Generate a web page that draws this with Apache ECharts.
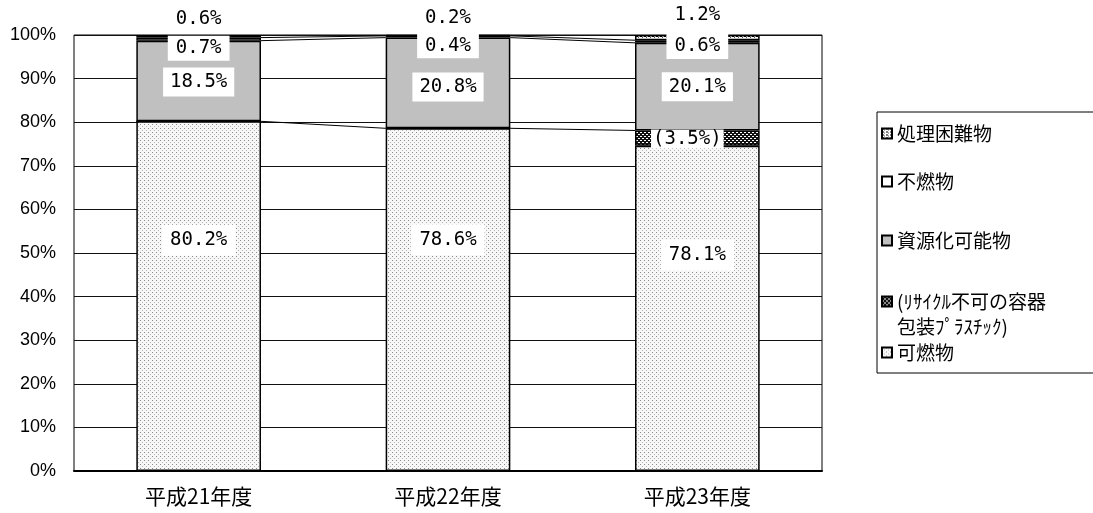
<!DOCTYPE html>
<html>
<head>
<meta charset="utf-8">
<script src="https://cdn.jsdelivr.net/npm/echarts@6/dist/echarts.min.js"></script>
<style>
  html, body { margin: 0; padding: 0; background: #fff; }
  #chart { width: 1093px; height: 513px; }
</style>
</head>
<body>
<div id="chart"></div>
<script>
// Fiscal years
const categories = ['平成21年度', '平成22年度', '平成23年度'];
// Share of each waste type (%)
const combustibleTotal = [80.2, 78.6, 78.1];   // 可燃物 (includes the plastic share below)
const plasticShare = [0, 0, 3.5];              // (ﾘｻｲｸﾙ不可の容器包装ﾌﾟﾗｽﾁｯｸ)
const recyclable = [18.5, 20.8, 20.1];         // 資源化可能物
const nonCombustible = [0.7, 0.4, 0.6];        // 不燃物
const hardToTreat = [0.6, 0.2, 1.2];           // 処理困難物
const yTicks = [0, 10, 20, 30, 40, 50, 60, 70, 80, 90, 100];

const names = {
  combustible: '可燃物',
  plastic: '(ﾘｻｲｸﾙ不可の容器\n包装ﾌﾟﾗｽﾁｯｸ)',
  recyclable: '資源化可能物',
  nonCombustible: '不燃物',
  hardToTreat: '処理困難物'
};

// --- fill patterns -------------------------------------------------------
function makePattern(w, h, bg, dots) {
  const c = document.createElement('canvas');
  c.width = w; c.height = h;
  const ctx = c.getContext('2d');
  ctx.fillStyle = bg;
  ctx.fillRect(0, 0, w, h);
  dots.forEach(d => { ctx.fillStyle = d[2]; ctx.fillRect(d[0], d[1], d[3] || 1, d[4] || 1); });
  return { image: c, repeat: 'repeat' };
}
const dottedFill = makePattern(4, 4, '#f7f7f7', [[0, 0, '#8a8a8a'], [2, 2, '#b4b4b4']]);
const checkFill = makePattern(4, 4, '#111', [[0, 0, '#fff', 2, 1], [2, 2, '#fff', 2, 1]]);
const speckFill = makePattern(4, 3, '#fff', [[0, 0, '#000', 2, 1], [2, 1, '#555']]);

// Bottom segment of the last bar is the combustible share without the plastic part
const combustibleDrawn = combustibleTotal.map((v, i) => +(v - plasticShare[i]).toFixed(1));

// Cumulative boundaries joined by series lines between neighbouring bars
function cumulative(arrs) {
  return categories.map((_, i) => arrs.reduce((s, a) => s + a[i], 0));
}
const boundaries = [
  combustibleTotal,
  cumulative([combustibleTotal, recyclable]),
  cumulative([combustibleTotal, recyclable, nonCombustible])
];
const connectorData = [];
boundaries.forEach(b => {
  for (let i = 0; i < categories.length - 1; i++) connectorData.push([i, b[i], b[i + 1]]);
});

const pctFont = { fontFamily: 'DejaVu Sans Mono', fontSize: 19, color: '#000', backgroundColor: '#fff', padding: [4, 6] };

function items(values, offsets, xOffsets) {
  return values.map((v, i) => {
    const o = { value: v };
    if (v === 0) {
      o.label = { show: false };
    } else {
      o.label = { offset: [xOffsets ? xOffsets[i] : 0, offsets[i]] };
    }
    return o;
  });
}

const baseBar = {
  type: 'bar',
  stack: 'total',
  barWidth: '50%',
  emphasis: { disabled: true }
};
const edge = { borderColor: '#000', borderWidth: 1.5 };

const chart = echarts.init(document.getElementById('chart'), null, { renderer: 'canvas' });
chart.setOption({
  animation: false,
  backgroundColor: '#fff',
  grid: { left: 74, right: 271, top: 35, bottom: 42, show: true, borderColor: '#000', borderWidth: 1, backgroundColor: 'transparent' },
  legend: {
    orient: 'vertical',
    left: 877,
    top: 112,
    padding: [9, 320, 7, 4],
    itemGap: 0,
    itemWidth: 10,
    itemHeight: 10,
    icon: 'rect',
    borderColor: '#000',
    borderWidth: 1,
    // the two-line entry gets a blank lead line so its first line sits beside the swatch
    formatter: name => (name === names.plastic ? ' \n' + name : name),
    textStyle: { fontFamily: 'Noto Sans CJK JP', fontSize: 19, color: '#000' },
    data: [
      { name: names.hardToTreat, textStyle: { lineHeight: 25 } },
      { name: names.nonCombustible, textStyle: { lineHeight: 71 } },
      { name: names.recyclable, textStyle: { lineHeight: 47 } },
      { name: names.plastic, textStyle: { lineHeight: 25 } },
      { name: names.combustible, textStyle: { lineHeight: 27 } }
    ]
  },
  xAxis: {
    type: 'category',
    data: categories,
    axisLine: { lineStyle: { color: '#000', width: 2 } },
    axisTick: { inside: true, length: 7, lineStyle: { color: '#000' } },
    axisLabel: { color: '#000', fontFamily: 'Noto Sans CJK JP', fontSize: 21, margin: 15 }
  },
  yAxis: {
    type: 'value',
    min: yTicks[0],
    max: yTicks[yTicks.length - 1],
    interval: yTicks[1] - yTicks[0],
    axisLine: { show: false },
    axisTick: { show: false },
    axisLabel: { color: '#000', fontFamily: 'Liberation Sans', fontSize: 18, margin: 18, formatter: '{value}%' },
    splitLine: { lineStyle: { color: '#111', width: 1 } }
  },
  series: [
    Object.assign({}, baseBar, {
      name: names.combustible,
      itemStyle: Object.assign({ color: dottedFill }, edge),
      data: items(combustibleDrawn, [-56, -60, -53]),
      label: { show: true, position: 'inside', formatter: p => combustibleTotal[p.dataIndex].toFixed(1) + '%', ...pctFont, padding: [6, 8] }
    }),
    Object.assign({}, baseBar, {
      name: names.plastic,
      itemStyle: Object.assign({ color: checkFill }, edge),
      data: items(plasticShare, [0, 0, 1], [0, 0, -10]),
      label: { show: true, position: 'inside', formatter: p => '(' + p.value.toFixed(1) + '%)', ...pctFont, padding: [0, 2] }
    }),
    Object.assign({}, baseBar, {
      name: names.recyclable,
      itemStyle: Object.assign({ color: '#c0c0c0' }, edge),
      data: items(recyclable, [1, 4, 0]),
      label: { show: true, position: 'inside', formatter: p => p.value.toFixed(1) + '%', ...pctFont, padding: [5, 7] }
    }),
    Object.assign({}, baseBar, {
      name: names.nonCombustible,
      itemStyle: Object.assign({ color: '#fff' }, edge),
      data: items(nonCombustible, [9, 9, 5]),
      label: { show: true, position: 'inside', formatter: p => p.value.toFixed(1) + '%', ...pctFont, padding: [3, 8] }
    }),
    Object.assign({}, baseBar, {
      name: names.hardToTreat,
      itemStyle: Object.assign({ color: speckFill }, edge),
      data: items(hardToTreat, [-17, -17, -23]),
      label: { show: true, position: 'inside', formatter: p => p.value.toFixed(1) + '%', ...pctFont, padding: [2, 8] }
    }),
    {
      // series lines linking segment boundaries of adjacent bars
      type: 'custom',
      name: 'series-lines',
      silent: true,
      z: 1,
      encode: { x: 0, y: 1 },
      data: connectorData,
      renderItem: (params, api) => {
        const i = api.value(0);
        const half = api.size([1, 0])[0] * 0.25;
        const a = api.coord([i, api.value(1)]);
        const b = api.coord([i + 1, api.value(2)]);
        return {
          type: 'line',
          shape: { x1: a[0] + half, y1: a[1], x2: b[0] - half, y2: b[1] },
          style: { stroke: '#000', lineWidth: 1 }
        };
      }
    }
  ]
});
</script>
</body>
</html>
